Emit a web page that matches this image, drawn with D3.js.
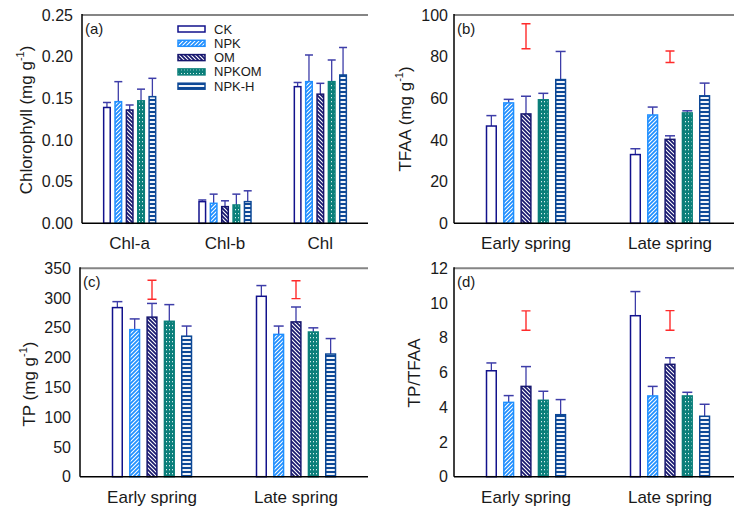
<!DOCTYPE html>
<html>
<head>
<meta charset="utf-8">
<script src="https://cdn.jsdelivr.net/npm/d3@7"></script>
<style>
  body { margin: 0; background: #fff; }
  svg { display: block; font-family: "Liberation Sans", Arial, sans-serif; }
</style>
</head>
<body>
<div id="chart"></div>
<script>
// treatments (legend order)
var treatments = ["CK", "NPK", "OM", "NPKOM", "NPK-H"];

// (a) chlorophyll, [category][treatment]
var chlCats = ["Chl-a", "Chl-b", "Chl"];
var chlMean = [[0.139, 0.146, 0.136, 0.147, 0.152],
               [0.026, 0.024, 0.020, 0.022, 0.026],
               [0.164, 0.170, 0.155, 0.170, 0.178]];
var chlErr  = [[0.006, 0.024, 0.006, 0.014, 0.022],
               [0.002, 0.011, 0.007, 0.013, 0.013],
               [0.005, 0.032, 0.013, 0.026, 0.033]];
var chlTicks = [0, 0.05, 0.10, 0.15, 0.20, 0.25];

var seasons = ["Early spring", "Late spring"];

// (b) TFAA
var tfaaMean = [[46.7, 57.8, 52.5, 59.3, 69.0],
                [33.0, 52.0, 40.3, 53.0, 61.2]];
var tfaaErr  = [[5.0, 1.7, 8.5, 3.1, 13.5],
                [2.8, 3.8, 1.7, 1.0, 6.1]];
var tfaaLsd  = [[83.8, 95.8], [77.2, 82.7]];
var tfaaTicks = [0, 20, 40, 60, 80, 100];

// (c) TP
var tpMean = [[284, 247, 268, 261, 236],
              [303, 239, 260, 243, 206]];
var tpErr  = [[10, 18, 23, 28, 17],
              [18, 14, 25, 7, 26]];
var tpLsd  = [[298, 330], [299, 329]];
var tpTicks = [0, 50, 100, 150, 200, 250, 300, 350];

// (d) TP/TFAA
var ratioMean = [[6.10, 4.28, 5.20, 4.40, 3.57],
                 [9.27, 4.65, 6.47, 4.65, 3.48]];
var ratioErr  = [[0.45, 0.39, 1.14, 0.52, 0.87],
                 [1.39, 0.55, 0.38, 0.21, 0.69]];
var ratioLsd  = [[8.43, 9.55], [8.43, 9.56]];
var ratioTicks = [0, 2, 4, 6, 8, 10, 12];

var W = 734, H = 508;
var textColor = "#1a1a1a";
var errColor = "#3d3da8";
var lsdColor = "#ff2b2b";

var svg = d3.select("#chart").append("svg")
    .attr("width", W)
    .attr("height", H);

// fill patterns
var defs = svg.append("defs");

function stripePattern(id, bg, size, lineFn, lw) {
    var p = defs.append("pattern")
        .attr("id", id)
        .attr("patternUnits", "userSpaceOnUse")
        .attr("width", size)
        .attr("height", size);
    p.append("rect").attr("width", size).attr("height", size).attr("fill", bg);
    lineFn(p, size, lw);
}

stripePattern("pNPK", "#1f8fff", 4, function(p, s, lw) {
    p.append("path").attr("d", "M-1,1 l2,-2 M0," + s + " l" + s + ",-" + s + " M" + (s - 1) + "," + (s + 1) + " l2,-2")
        .attr("stroke", "#fff").attr("stroke-width", lw);
}, 1.1);
stripePattern("pOM", "#16166e", 4, function(p, s, lw) {
    p.append("path").attr("d", "M-1," + (s - 1) + " l2,2 M0,0 l" + s + "," + s + " M" + (s - 1) + ",-1 l2,2")
        .attr("stroke", "#fff").attr("stroke-width", lw);
}, 1.1);
(function() {
    var p = defs.append("pattern")
        .attr("id", "pNPKOM")
        .attr("patternUnits", "userSpaceOnUse")
        .attr("width", 3)
        .attr("height", 4);
    p.append("rect").attr("width", 3).attr("height", 4).attr("fill", "#0b7f7a");
    p.append("rect").attr("x", 1).attr("y", 1).attr("width", 1).attr("height", 1.3).attr("fill", "#d8f0ee");
})();
(function() {
    var p = defs.append("pattern")
        .attr("id", "pNPKH")
        .attr("patternUnits", "userSpaceOnUse")
        .attr("width", 4)
        .attr("height", 4);
    p.append("rect").attr("width", 4).attr("height", 4).attr("fill", "#0d4896");
    p.append("rect").attr("y", 1).attr("width", 4).attr("height", 2).attr("fill", "#f0f4fa");
})();

var fills = ["#ffffff", "url(#pNPK)", "url(#pOM)", "url(#pNPKOM)", "url(#pNPKH)"];
var strokes = ["#12128c", "#1f8fff", "#16166e", "#0b7f7a", "#0d4896"];

function drawPanel(cfg) {
    var g = svg.append("g");

    var x0 = d3.scaleBand()
        .domain(cfg.cats)
        .range([cfg.left, cfg.right])
        .padding(0);

    var x1 = d3.scaleBand()
        .domain(treatments)
        .range([-cfg.groupW / 2, cfg.groupW / 2])
        .paddingInner(cfg.inner)
        .paddingOuter(0);

    var y = d3.scaleLinear()
        .domain([0, cfg.ticks[cfg.ticks.length - 1]])
        .range([cfg.bottom, cfg.top]);

    // frame: gray top line, black left/bottom axes
    g.append("line")
        .attr("x1", cfg.left).attr("x2", cfg.right)
        .attr("y1", y(cfg.ticks[cfg.ticks.length - 1])).attr("y2", y(cfg.ticks[cfg.ticks.length - 1]))
        .attr("stroke", "#858585").attr("stroke-width", 2);

    // bars
    cfg.cats.forEach(function(c, ci) {
        var cx = x0(c) + x0.bandwidth() / 2;
        treatments.forEach(function(t, ti) {
            var v = cfg.mean[ci][ti];
            var e = cfg.err[ci][ti];
            var bx = cx + x1(t);
            var bw = x1.bandwidth();
            // error bar (upper only)
            g.append("line")
                .attr("x1", bx + bw / 2).attr("x2", bx + bw / 2)
                .attr("y1", y(v)).attr("y2", y(v + e))
                .attr("stroke", errColor).attr("stroke-width", 1.3);
            g.append("line")
                .attr("x1", bx + bw / 2 - cfg.cap).attr("x2", bx + bw / 2 + cfg.cap)
                .attr("y1", y(v + e)).attr("y2", y(v + e))
                .attr("stroke", errColor).attr("stroke-width", 1.5);
            g.append("rect")
                .attr("x", bx + 0.75)
                .attr("y", y(v))
                .attr("width", bw - 1.5)
                .attr("height", y(0) - y(v))
                .attr("fill", fills[ti])
                .attr("stroke", strokes[ti])
                .attr("stroke-width", 1.5);
        });

        // LSD bar
        if (cfg.lsd) {
            var lo = cfg.lsd[ci][0], hi = cfg.lsd[ci][1];
            g.append("path")
                .attr("d", "M" + (cx - 4.5) + "," + y(hi) + "h9M" + cx + "," + y(hi) + "V" + y(lo) + "M" + (cx - 4.5) + "," + y(lo) + "h9")
                .attr("fill", "none")
                .attr("stroke", lsdColor)
                .attr("stroke-width", 1.4);
        }
    });

    g.append("line")
        .attr("x1", cfg.left).attr("x2", cfg.left)
        .attr("y1", cfg.top - 1).attr("y2", cfg.bottom)
        .attr("stroke", "#000").attr("stroke-width", 1.5);
    g.append("line")
        .attr("x1", cfg.left).attr("x2", cfg.right)
        .attr("y1", cfg.bottom).attr("y2", cfg.bottom)
        .attr("stroke", "#000").attr("stroke-width", 1.5);

    // y axis labels
    var ya = g.append("g")
        .attr("transform", "translate(" + cfg.left + ",0)")
        .call(d3.axisLeft(y).tickValues(cfg.ticks).tickSize(0).tickPadding(cfg.tickPad).tickFormat(cfg.fmt));
    ya.select(".domain").remove();
    ya.selectAll("text")
        .attr("font-size", 16)
        .attr("font-family", "'Liberation Sans', Arial, sans-serif")
        .attr("fill", textColor);

    // category labels
    g.selectAll(".cat")
        .data(cfg.cats)
        .enter()
        .append("text")
        .attr("x", function(d) { return x0(d) + x0.bandwidth() / 2; })
        .attr("y", cfg.bottom + 26)
        .attr("text-anchor", "middle")
        .attr("font-size", 17)
        .attr("fill", textColor)
        .text(function(d) { return d; });

    // y title
    var t = g.append("text")
        .attr("transform", "translate(" + cfg.titleX + "," + cfg.titleY + ") rotate(-90)")
        .attr("text-anchor", "middle")
        .attr("dy", "0.35em")
        .attr("font-size", 17)
        .attr("fill", textColor);
    t.append("tspan").text(cfg.title);
    if (cfg.unit) {
        t.append("tspan").text(" (mg g");
        t.append("tspan").attr("font-size", 11).attr("dy", "-0.7em").text("-1");
        t.append("tspan").attr("dy", "0.45em").text(")");
    }

    // panel letter
    g.append("text")
        .attr("x", cfg.left + 3)
        .attr("y", cfg.top + 19)
        .attr("font-size", 15)
        .attr("fill", textColor)
        .text(cfg.letter);

    return g;
}

var pa = drawPanel({
    cats: chlCats, mean: chlMean, err: chlErr, ticks: chlTicks,
    left: 82, right: 368, top: 15, bottom: 223.3,
    groupW: 53.5, inner: 0.29, cap: 4,
    tickPad: 9, fmt: d3.format(".2f"),
    title: "Chlorophyll", unit: true, titleX: 26, titleY: 120,
    letter: "(a)"
});

drawPanel({
    cats: seasons, mean: tfaaMean, err: tfaaErr, lsd: tfaaLsd, ticks: tfaaTicks,
    left: 454, right: 742, top: 15, bottom: 223.3,
    groupW: 80.5, inner: 0.35, cap: 5,
    tickPad: 6, fmt: d3.format("d"),
    title: "TFAA", unit: true, titleX: 405, titleY: 119,
    letter: "(b)"
});

drawPanel({
    cats: seasons, mean: tpMean, err: tpErr, lsd: tpLsd, ticks: tpTicks,
    left: 80, right: 368, top: 268.3, bottom: 476.7,
    groupW: 80.5, inner: 0.35, cap: 5,
    tickPad: 9, fmt: d3.format("d"),
    title: "TP", unit: true, titleX: 29, titleY: 384,
    letter: "(c)"
});

drawPanel({
    cats: seasons, mean: ratioMean, err: ratioErr, lsd: ratioLsd, ticks: ratioTicks,
    left: 454, right: 742, top: 268.3, bottom: 476.7,
    groupW: 80.5, inner: 0.35, cap: 5,
    tickPad: 6, fmt: d3.format("d"),
    title: "TP/TFAA", unit: false, titleX: 414, titleY: 373,
    letter: "(d)"
});

// legend (inside panel a)
var legend = pa.append("g");
treatments.forEach(function(t, i) {
    var ly = 29 + i * 14.3;
    legend.append("rect")
        .attr("x", 178)
        .attr("y", ly - 3)
        .attr("width", 27)
        .attr("height", 6)
        .attr("fill", fills[i])
        .attr("stroke", strokes[i])
        .attr("stroke-width", 1.5);
    legend.append("text")
        .attr("x", 214)
        .attr("y", ly)
        .attr("dy", "0.35em")
        .attr("font-size", 13)
        .attr("fill", textColor)
        .text(t);
});
</script>
</body>
</html>
